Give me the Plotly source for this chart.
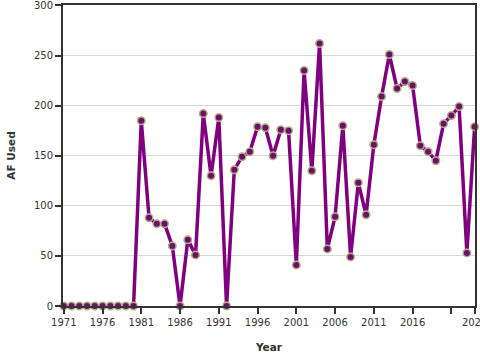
import plotly.graph_objects as go

years = list(range(1971, 2025))
af_used = [0, 0, 0, 0, 0, 0, 0, 0, 0, 0,
           185, 88, 82, 82, 60, 0, 66, 51, 192, 130,
           188, 0, 136, 149, 154, 179, 178, 150, 176, 175,
           41, 235, 135, 262, 57, 89, 180, 49, 123, 91,
           161, 209, 251, 217, 224, 220, 160, 154, 145, 182,
           190, 199, 53, 179]

x_tickvals = [1971, 1976, 1981, 1986, 1991, 1996, 2001, 2006, 2011, 2016, 2021, 2024]
x_ticktext = ["1971", "1976", "1981", "1986", "1991", "1996", "2001", "2006", "2011", "2016", " ", "2024"]
y_tickvals = [0, 50, 100, 150, 200, 250, 300]

fig = go.Figure()
fig.add_trace(go.Scatter(
    x=years, y=af_used, mode="lines+markers",
    line=dict(color="#800080", width=3.5),
    marker=dict(size=7.5, color="#6a106a", line=dict(color="#b5ad85", width=1.5)),
    cliponaxis=False, showlegend=False,
))

axis_font = dict(family="DejaVu Sans", size=10, color="#333333")
fig.update_layout(
    width=480, height=360,
    margin=dict(l=63, r=5, t=5, b=54),
    paper_bgcolor="white", plot_bgcolor="white",
    font=dict(family="DejaVu Sans", size=10, color="#333333"),
    xaxis=dict(
        range=[1970.9, 2024.05], tickvals=x_tickvals, ticktext=x_ticktext,
        automargin=False, ticklabeloverflow="allow",
        showgrid=False, zeroline=False,
        showline=True, linecolor="#333333", linewidth=2, mirror=True,
        ticks="outside", ticklen=6, tickwidth=1.5, tickcolor="#333333",
        tickfont=axis_font,
        title=dict(text="<b>Year</b>", font=dict(family="DejaVu Sans", size=10.5, color="#333333"), standoff=17),
    ),
    yaxis=dict(
        range=[0, 300.4], tickvals=y_tickvals,
        automargin=False, ticklabeloverflow="allow",
        showgrid=True, gridcolor="#d9d9d9", gridwidth=1, zeroline=False,
        showline=True, linecolor="#333333", linewidth=2, mirror=True,
        ticks="outside", ticklen=6, tickwidth=1.5, tickcolor="#333333",
        tickfont=axis_font,
        title=dict(text="<b>AF Used</b>", font=dict(family="DejaVu Sans", size=10.5, color="#333333"), standoff=16),
    ),
)

fig.write_html(
    "out.html",
    config={"displayModeBar": False},
    post_script="document.body.style.margin='0';document.body.style.overflow='hidden';",
)
